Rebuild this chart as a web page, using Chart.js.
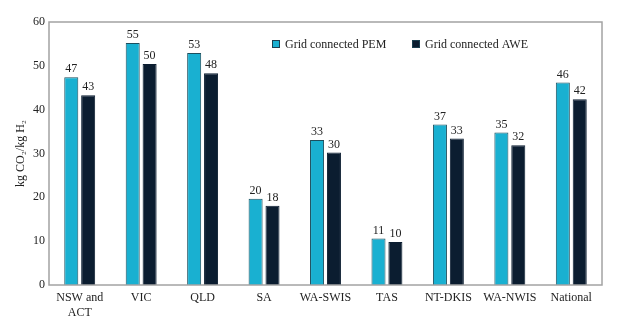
<!DOCTYPE html>
<html>
<head>
<meta charset="utf-8">
<script src="https://cdn.jsdelivr.net/npm/chart.js@4"></script>
<style>
  html, body { margin: 0; padding: 0; background: #fff; }
  #wrap { width: 629px; height: 321px; }
</style>
</head>
<body>
<div id="wrap"><canvas id="myChart" width="629" height="321"></canvas></div>
<script>
const regions = [["NSW and", "ACT"], "VIC", "QLD", "SA", "WA-SWIS", "TAS", "NT-DKIS", "WA-NWIS", "National"];
const pemValues = [47.4, 55.2, 52.9, 19.7, 33.1, 10.6, 36.6, 34.8, 46.2];
const aweValues = [43.3, 50.4, 48.3, 18.1, 30.2, 9.8, 33.4, 31.9, 42.4];
const seriesNames = ["Grid connected PEM", "Grid connected AWE"];
const yTicks = [0, 10, 20, 30, 40, 50, 60];

const serif = "'Liberation Serif', 'Times New Roman', serif";

// plot frame + value labels + legend inside the plot
const extras = {
  id: "extras",
  afterDatasetsDraw(chart) {
    const ctx = chart.ctx;
    const a = chart.chartArea;
    ctx.save();
    ctx.strokeStyle = "#a3a3a3";
    ctx.lineWidth = 1.5;
    ctx.strokeRect(a.left, a.top, a.right - a.left, a.bottom - a.top);

    ctx.font = "12px " + serif;
    ctx.fillStyle = "#222";
    ctx.textAlign = "center";
    ctx.textBaseline = "bottom";
    chart.data.datasets.forEach((ds, i) => {
      chart.getDatasetMeta(i).data.forEach((bar, j) => {
        ctx.fillText(Math.round(ds.data[j]), bar.x, bar.y - 2);
      });
    });

    // legend
    ctx.font = "12px " + serif;
    ctx.textAlign = "left";
    ctx.textBaseline = "middle";
    const legendX = [272, 412];
    chart.data.datasets.forEach((ds, i) => {
      const x = legendX[i], y = 44;
      ctx.fillStyle = ds.backgroundColor;
      ctx.fillRect(x, y - 4, 8, 8);
      ctx.strokeStyle = "#1b3f4f";
      ctx.lineWidth = 1;
      ctx.strokeRect(x + 0.5, y - 3.5, 7, 7);
      ctx.fillStyle = "#222";
      ctx.fillText(ds.label, x + 13, y + 1);
    });
    ctx.restore();
  }
};

new Chart(document.getElementById("myChart").getContext("2d"), {
  type: "bar",
  data: {
    labels: regions,
    datasets: [
      {
        label: seriesNames[0],
        data: pemValues,
        backgroundColor: "#19b0d1",
        borderColor: "#1d4f5e",
        borderWidth: 1,
        categoryPercentage: 0.55,
        barPercentage: 0.83
      },
      {
        label: seriesNames[1],
        data: aweValues,
        backgroundColor: "#0b1d30",
        borderColor: "#0b1d30",
        borderWidth: 1,
        categoryPercentage: 0.55,
        barPercentage: 0.83
      }
    ]
  },
  options: {
    responsive: false,
    animation: false,
    layout: { padding: { top: 22, right: 27, left: 0, bottom: 0 } },
    plugins: {
      legend: { display: false },
      tooltip: { enabled: false }
    },
    scales: {
      x: {
        grid: { display: false, drawTicks: false },
        border: { display: false },
        ticks: { color: "#222", font: { family: serif, size: 12 }, padding: 6, maxRotation: 0 },
        afterFit(scale) { scale.height = 36; }
      },
      y: {
        min: 0,
        max: 60,
        grid: { display: false, drawTicks: false },
        border: { display: false },
        afterBuildTicks(scale) { scale.ticks = yTicks.map(v => ({ value: v })); },
        ticks: { color: "#222", font: { family: serif, size: 12 }, padding: 4 },
        title: {
          display: true,
          text: "kg CO\u2082/kg H\u2082",
          color: "#222",
          font: { family: serif, size: 12 },
          padding: { top: 14, bottom: 0 }
        },
        afterFit(scale) { scale.width = 49; }
      }
    }
  },
  plugins: [extras]
});
</script>
</body>
</html>
